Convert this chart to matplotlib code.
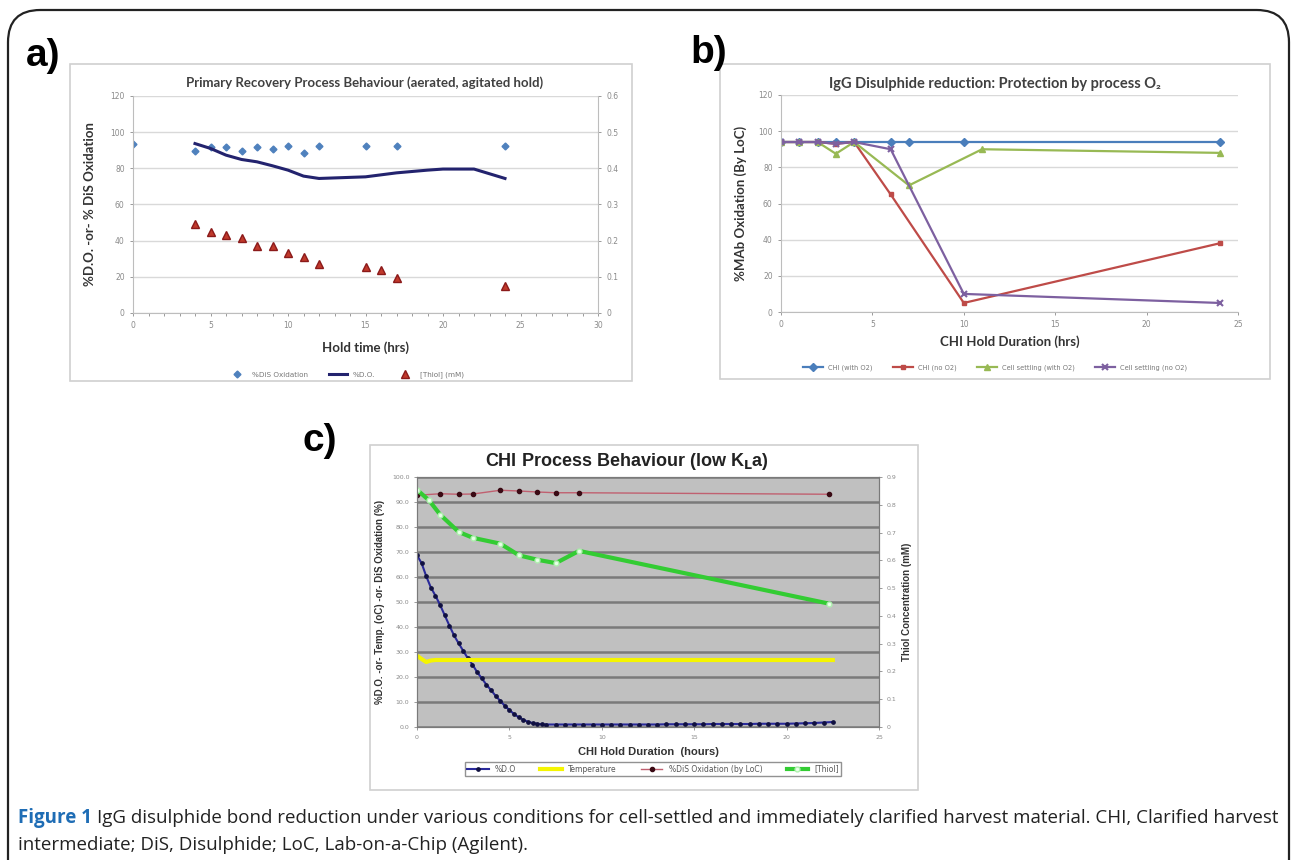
import matplotlib
matplotlib.use('Agg')
import matplotlib.pyplot as plt
from matplotlib.patches import FancyBboxPatch, Rectangle
from matplotlib import font_manager
from matplotlib.ticker import MultipleLocator, FormatStrFormatter, FuncFormatter

# ---------------- data ----------------
# panel a
a_hours_dis = [0, 4, 5, 6, 7, 8, 9, 10, 11, 12, 15, 17, 24]
a_dis_ox = [93.4, 89.5, 91.9, 91.9, 89.7, 91.9, 90.7, 92.6, 88.5, 92.4, 92.4, 92.3, 92.4]
a_hours_do = [4, 5, 6, 7, 8, 9, 10, 11, 12, 15, 17, 19, 20, 22, 24]
a_do = [93.7, 91.0, 87.3, 84.9, 83.6, 81.4, 79.0, 75.7, 74.4, 75.3, 77.5, 79.0, 79.6, 79.6, 74.4]
a_hours_thiol = [4, 5, 6, 7, 8, 9, 10, 11, 12, 15, 16, 17, 24]
a_thiol = [0.246, 0.225, 0.216, 0.206, 0.186, 0.186, 0.165, 0.156, 0.135, 0.127, 0.118, 0.097, 0.076]
a_legend = ['%DiS Oxidation', '%D.O.', '[Thiol] (mM)']

# panel b
b_hours_chi_o2 = [0, 1, 2, 3, 4, 6, 7, 10, 24]
b_chi_o2 = [94, 94, 94, 94, 94, 94, 94, 94, 94]
b_hours_chi_no = [0, 1, 2, 3, 4, 6, 10, 24]
b_chi_no = [94, 94, 94, 93, 94, 65, 5, 38]
b_hours_cs_o2 = [0, 1, 2, 3, 4, 7, 11, 24]
b_cs_o2 = [94, 94, 94, 87.5, 94, 70, 90, 88]
b_hours_cs_no = [0, 1, 2, 3, 4, 6, 10, 24]
b_cs_no = [94, 94, 94, 93, 94, 90, 10, 5]
b_legend = ['CHI (with O2)', 'CHI (no O2)', 'Cell settling (with O2)', 'Cell settling (no O2)']

# panel c
c_hours_do = [0, 0.25, 0.5, 0.75, 1.0, 1.25, 1.5, 1.75, 2.0, 2.25, 2.5, 2.75, 3.0, 3.25,
              3.5, 3.75, 4.0, 4.25, 4.5, 4.75, 5.0, 5.25, 5.5, 5.75, 6.0, 6.25, 6.5, 6.75,
              7.0, 7.5, 8.0, 8.5, 9.0, 9.5, 10.0, 10.5, 11.0, 11.5, 12.0, 12.5, 13.0, 13.5,
              14.0, 14.5, 15.0, 15.5, 16.0, 16.5, 17.0, 17.5, 18.0, 18.5, 19.0, 19.5, 20.0,
              20.5, 21.0, 21.5, 22.0, 22.5]
c_do = [68.7, 65.5, 60.3, 55.8, 52.5, 48.8, 44.7, 40.6, 36.7, 33.5, 30.5, 27.5, 25.0, 22.0,
        19.5, 17.0, 14.8, 12.5, 10.5, 8.5, 6.8, 5.2, 3.9, 2.9, 2.1, 1.6, 1.3, 1.1,
        1.0, 1.0, 1.0, 1.0, 1.0, 1.0, 1.0, 1.0, 1.0, 1.0, 1.0, 1.0, 1.0, 1.1,
        1.1, 1.1, 1.1, 1.1, 1.2, 1.2, 1.2, 1.2, 1.2, 1.3, 1.3, 1.3, 1.3,
        1.4, 1.5, 1.6, 1.8, 2.0]
c_hours_temp = [0, 0.25, 0.5, 0.75, 1.0, 22.5]
c_temp = [28.5, 27.2, 26.0, 26.6, 26.8, 26.8]
c_hours_dis = [0, 1.26, 2.26, 3.03, 4.51, 5.52, 6.52, 7.51, 8.77, 22.3]
c_dis = [92.7, 93.3, 93.1, 93.2, 94.7, 94.4, 94.0, 93.7, 93.7, 93.1]
c_hours_thiol = [0, 0.65, 1.26, 2.26, 3.03, 4.51, 5.52, 6.52, 7.51, 8.77, 22.3]
c_thiol = [0.854, 0.816, 0.764, 0.702, 0.681, 0.660, 0.618, 0.602, 0.590, 0.634, 0.444]
c_legend = ['%D.O', 'Temperature', '%DiS Oxidation (by LoC)', '[Thiol]']

caption_bold = 'Figure 1'
caption_line1 = ('IgG disulphide bond reduction under various conditions for cell-settled and '
                 'immediately clarified harvest material. CHI, Clarified harvest')
caption_line2 = 'intermediate; DiS, Disulphide; LoC, Lab-on-a-Chip (Agilent).'

# ---------------- setup ----------------
W, H = 1292, 860
fig = plt.figure(figsize=(W / 100, H / 100), dpi=100)
fig.patch.set_facecolor('white')

names = {f.name for f in font_manager.fontManager.ttflist}
TF = ['Lato', 'DejaVu Sans'] if 'Lato' in names else ['DejaVu Sans']
AR = ['Liberation Sans', 'DejaVu Sans']
if 'Liberation Sans Narrow' in names:
    NARROW = ['Liberation Sans Narrow', 'DejaVu Sans']
elif 'Open Sans' in names:
    NARROW = ['Open Sans', 'DejaVu Sans']
else:
    NARROW = ['DejaVu Sans']


def px(x0, y0, x1, y1):
    return [x0 / W, 1 - y1 / H, (x1 - x0) / W, (y1 - y0) / H]


def fx(x):
    return x / W


def fy(y):
    return 1 - y / H


def frame(x0, y0, x1, y1, color='#d0d0d0', lw=1.2):
    fig.patches.append(Rectangle((fx(x0), fy(y1)), fx(x1) - fx(x0), fy(y0) - fy(y1),
                                 transform=fig.transFigure, fill=False, ec=color, lw=lw))


gfmt = FuncFormatter(lambda v, p: '%g' % round(v, 2))

# outer rounded border
fig.patches.append(FancyBboxPatch((fx(8), fy(905)), fx(1289) - fx(8), fy(10) - fy(905),
                                  boxstyle='round,pad=0,rounding_size=0.025',
                                  transform=fig.transFigure, fill=False, ec='#222222', lw=1.6,
                                  mutation_aspect=W / H))

TICKC = '#8a8a8a'
GRIDC = '#d9d9d9'


def excel_axes(ax):
    ax.spines['top'].set_visible(False)
    for s in ['left', 'bottom', 'right']:
        ax.spines[s].set_color('#bdbdbd')
    ax.tick_params(colors=TICKC, labelsize=5.5, length=2.5, width=0.6)
    ax.yaxis.grid(True, color=GRIDC, lw=1.0)
    ax.set_axisbelow(True)


# ---------------- panel a ----------------
frame(70, 64, 632, 381)
fig.text(fx(26), fy(56), 'a)', fontsize=28, fontweight='bold', family=AR, va='center', ha='left')
axa = fig.add_axes(px(133, 96, 598, 313))
excel_axes(axa)
axa.spines['right'].set_visible(False)
axa.set_xlim(0, 30)
axa.set_ylim(0, 120)
axa.xaxis.set_major_locator(MultipleLocator(5))
axa.xaxis.set_minor_locator(MultipleLocator(1))
axa.yaxis.set_major_locator(MultipleLocator(20))
axa.yaxis.set_major_formatter(gfmt)
axa.tick_params(which='minor', colors=TICKC, length=2, width=0.6)
l1, = axa.plot(a_hours_dis, a_dis_ox, ls='none', marker='D', ms=3.5, color='#4f81bd',
               label=a_legend[0])
l2, = axa.plot(a_hours_do, a_do, color='#23236e', lw=2.2, label=a_legend[1])
axa2 = axa.twinx()
axa2.set_ylim(0, 0.6)
axa2.yaxis.set_major_locator(MultipleLocator(0.1))
axa2.yaxis.set_major_formatter(gfmt)
for s in ['top', 'left', 'bottom']:
    axa2.spines[s].set_visible(False)
axa2.spines['right'].set_color('#bdbdbd')
axa2.tick_params(colors=TICKC, labelsize=5.5, length=2.5, width=0.6)
l3, = axa2.plot(a_hours_thiol, a_thiol, ls='none', marker='^', ms=5.5, color='#c0392b',
                mec='#8b1a1a', label=a_legend[2])
axa.set_xlabel('Hold time (hrs)', fontsize=9.5, fontweight='bold', family=TF, color='#333333',
               labelpad=8)
axa.set_ylabel('%D.O. -or- % DiS Oxidation', fontsize=9.5, fontweight='bold', family=TF,
               color='#333333', labelpad=10)
fig.text(fx(365), fy(83), 'Primary Recovery Process Behaviour (aerated, agitated hold)',
         fontsize=9.5, fontweight='bold', family=TF, color='#404040', ha='center', va='center')
fig.legend([l1, l2, l3], a_legend, loc='center', bbox_to_anchor=(fx(346), fy(375)), ncol=3,
           frameon=False, fontsize=5.2, handlelength=2.4, columnspacing=3.0, labelcolor='#777777')

# ---------------- panel b ----------------
frame(720, 64, 1270, 379)
fig.text(fx(690), fy(53), 'b)', fontsize=28, fontweight='bold', family=AR, va='center', ha='left')
axb = fig.add_axes(px(781, 95, 1238, 312))
excel_axes(axb)
axb.spines['right'].set_visible(False)
axb.set_xlim(0, 25)
axb.set_ylim(0, 120)
axb.xaxis.set_major_locator(MultipleLocator(5))
axb.yaxis.set_major_locator(MultipleLocator(20))
b1, = axb.plot(b_hours_chi_o2, b_chi_o2, color='#4a7ebb', lw=1.6, marker='D', ms=4)
b2, = axb.plot(b_hours_chi_no, b_chi_no, color='#be4b48', lw=1.6, marker='s', ms=3.5)
b3, = axb.plot(b_hours_cs_o2, b_cs_o2, color='#98b954', lw=1.6, marker='^', ms=4)
b4, = axb.plot(b_hours_cs_no, b_cs_no, color='#7d60a0', lw=1.6, marker='x', ms=5, mew=1.5)
axb.set_xlabel('CHI Hold Duration (hrs)', fontsize=9.5, fontweight='bold', family=TF,
               color='#333333', labelpad=4)
axb.set_ylabel('%MAb Oxidation (By LoC)', fontsize=9.5, fontweight='bold', family=TF,
               color='#333333', labelpad=8)
fig.text(fx(995), fy(84), 'IgG Disulphide reduction: Protection by process O\u2082',
         fontsize=10.5, fontweight='bold', family=TF, color='#404040', ha='center', va='center')
fig.legend([b1, b2, b3, b4], b_legend, loc='center', bbox_to_anchor=(fx(995), fy(368)), ncol=4,
           frameon=False, fontsize=4.8, handlelength=3.0, columnspacing=3.0, labelcolor='#777777')

# ---------------- panel c ----------------
frame(370, 445, 918, 790)
fig.text(fx(302), fy(441), 'c)', fontsize=28, fontweight='bold', family=AR, va='center', ha='left')
axc = fig.add_axes(px(417, 477, 879, 727))
axc.set_facecolor('#c0c0c0')
axc.set_xlim(0, 25)
axc.set_ylim(0, 100)
axc.xaxis.set_major_locator(MultipleLocator(5))
axc.yaxis.set_major_locator(MultipleLocator(10))
axc.yaxis.set_major_formatter(FormatStrFormatter('%.1f'))
axc.yaxis.grid(True, color='#7a7a7a', lw=1.8)
axc.set_axisbelow(True)
for s in axc.spines.values():
    s.set_color('#7a7a7a')
axc.tick_params(colors='#8a8a8a', labelsize=4.5, length=2, width=0.6)
c1, = axc.plot(c_hours_do, c_do, color='#2a2a9a', lw=1.5, marker='o', ms=2.4,
               mfc='#101040', mec='#101040')
c2, = axc.plot(c_hours_temp, c_temp, color='#f5f500', lw=3)
c3, = axc.plot(c_hours_dis, c_dis, color='#c06070', lw=1.0, marker='o', ms=3,
               mfc='#3a0a14', mec='#3a0a14')
axc2 = axc.twinx()
axc2.set_ylim(0, 0.9)
axc2.yaxis.set_major_locator(MultipleLocator(0.1))
axc2.yaxis.set_major_formatter(gfmt)
for s in axc2.spines.values():
    s.set_color('#7a7a7a')
axc2.tick_params(colors='#8a8a8a', labelsize=4.5, length=2, width=0.6)
c4, = axc2.plot(c_hours_thiol, c_thiol, color='#33cc33', lw=3, marker='o', ms=3.5,
                mfc='#e8ffe8', mec='#b0f0b0')
axc.set_xlabel('CHI Hold Duration  (hours)', fontsize=8, fontweight='bold', family=AR,
               color='#333333', labelpad=5)
axc.set_ylabel('%D.O. -or- Temp. (oC) -or- DiS Oxidation (%)', fontsize=7, fontweight='bold',
               family=AR, color='#333333', labelpad=5)
axc2.set_ylabel('Thiol Concentration (mM)', fontsize=7, fontweight='bold', family=AR,
                color='#333333', labelpad=4)
fig.text(fx(627), fy(462), r'CHI Process Behaviour (low K$_{\mathbf{L}}$a)', fontsize=13,
         fontweight='bold', family=AR, color='#222222', ha='center', va='center')
fig.legend([c1, c2, c3, c4], c_legend, loc='center', bbox_to_anchor=(fx(653), fy(769)), ncol=4,
           frameon=True, fancybox=False, edgecolor='#777777', fontsize=5.5, handlelength=2.8,
           columnspacing=3.2, labelcolor='#555555', borderpad=0.3)

# ---------------- caption ----------------
renderer = fig.canvas.get_renderer()


def place_caption(fs):
    t1 = fig.text(fx(18), fy(818), caption_bold, fontsize=fs, fontweight='bold', color='#1f6db5',
                  family=NARROW, va='center', ha='left')
    bb = t1.get_window_extent(renderer)
    t2 = fig.text((bb.x1 + fs * 0.35) / W, fy(818), caption_line1, fontsize=fs,
                  color='#222222', family=NARROW, va='center', ha='left')
    t3 = fig.text(fx(18), fy(845), caption_line2, fontsize=fs, color='#222222',
                  family=NARROW, va='center', ha='left')
    return [t1, t2, t3]


fs = 12.0
for _ in range(3):
    ts = place_caption(fs)
    right = ts[1].get_window_extent(renderer).x1
    for t in ts:
        t.remove()
    fs = fs * (1281 - 18) / (right - 18)
place_caption(fs)

fig.savefig('out.png', dpi=100, facecolor='white')
